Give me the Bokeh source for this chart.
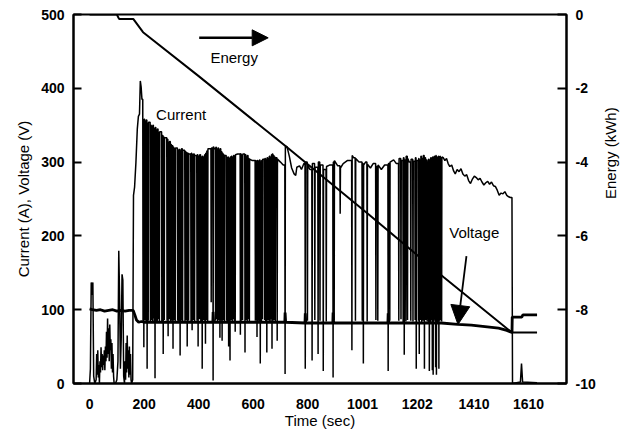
import math
from bokeh.plotting import figure
from bokeh.models import Range1d, LinearAxis, FixedTicker, Label, Arrow, NormalHead
from bokeh.embed import file_html
from bokeh.resources import INLINE

FONT = "Liberation Sans"

# ---------------- data ----------------
x_ticks = [0, 200, 400, 600, 800, 1001, 1202, 1410, 1610]
left_ticks = [0, 100, 200, 300, 400, 500]
energy_ticks = [-10, -8, -6, -4, -2, 0]

# Energy (kWh)
energy_t = [0, 100, 108, 160, 196, 400, 724, 1024, 1300, 1549, 1641]
energy_kwh = [0, 0, -0.12, -0.12, -0.48, -1.67, -3.6, -5.42, -7.13, -8.62, -8.62]

# Voltage (V)
volt_t = [0, 10, 25, 40, 55, 70, 85, 100, 115, 130,
          145, 160, 166, 172, 180, 190, 200, 239, 240, 242,
          330, 331, 333, 452, 453, 455, 625, 626, 628, 716,
          717, 719, 790, 791, 793, 892, 893, 895, 1094, 1095,
          1097, 1245, 1246, 1248, 1271, 1272, 1274, 1290, 1350, 1400,
          1450, 1500, 1530, 1549, 1550, 1585, 1589, 1641]
volt_v = [101, 100, 99, 100, 98, 99, 100, 98, 99, 98,
          99, 99, 93, 86, 83, 84, 83, 83, 96, 83,
          83, 95, 83, 83, 97, 83, 83, 95, 83, 83,
          96, 83, 82, 95, 82, 82, 96, 82, 82, 95,
          82, 82, 95, 82, 82, 96, 82, 82, 80, 79,
          77, 75, 72, 69, 90, 90, 93, 93]

# Current (A): start-up part
pre_t = [0, 3, 6, 9, 12, 15, 19, 24, 26, 28,
         30, 32, 34, 36, 38, 40, 42, 44, 46, 48,
         50, 52, 54, 56, 58, 60, 62, 64, 66, 68,
         70, 72, 74, 76, 78, 80, 82, 84, 86, 88,
         90, 95, 100, 104, 107, 110, 113, 116, 119, 122,
         125, 128, 130, 132, 134, 136, 138, 140, 142, 144,
         146, 148, 150, 152, 154, 158, 161, 165, 170, 175,
         179, 183, 186, 189, 192]
pre_a = [0, 20, 137, 120, 137, 10, 0, 5, 40, 12,
         45, 8, 25, 0, 30, 15, 49, 22, 40, 18,
         38, 25, 45, 18, 50, 30, 70, 35, 88, 40,
         75, 30, 80, 45, 60, 20, 55, 15, 40, 10,
         0, 0, 5, 30, 180, 120, 20, 60, 148, 140,
         10, 0, 30, 5, 55, 15, 65, 20, 45, 8,
         50, 12, 40, 5, 0, 5, 255, 266, 300, 345,
         362, 365, 410, 402, 385]

# Current (A): driving part - times, minimum reached, level returned to
drop_t = [196, 199, 203, 207, 211, 215, 223, 227, 231, 235,
          240, 244, 248, 252, 256, 265, 270, 274, 284,
          288, 292, 297, 301, 306, 310, 314, 323, 327, 332,
          336, 341, 350, 354, 358, 363, 372, 376, 380,
          385, 394, 398, 403, 408, 413, 417,
          421, 425, 429, 433, 440, 446, 453, 458, 462, 466,
          470, 474, 478, 482, 486, 490, 494, 502, 506,
          510, 515, 519, 523, 527, 531, 534, 543, 553, 557,
          561, 570, 574, 578, 582, 586, 597, 608, 611,
          614, 618, 622, 626, 630, 634, 642, 646, 650,
          654, 658, 662, 666, 669, 673, 677, 681, 688, 700,
          710, 717, 724, 733, 741, 750, 756, 760, 770, 777,
          786,
          791, 799, 808, 816, 826, 838, 845, 857, 868, 880,
          893, 897, 910, 919, 930, 945, 962, 968, 975, 988,
          1000, 1004, 1012, 1018, 1030, 1040, 1050, 1057, 1070, 1082,
          1095, 1101, 1115, 1125, 1134, 1142, 1150, 1154, 1160, 1166,
          1172, 1178, 1186, 1194, 1198, 1206, 1209, 1214, 1218, 1223,
          1228, 1233, 1238, 1242, 1246, 1250, 1254, 1257, 1260, 1263,
          1266, 1269, 1272, 1275, 1278, 1281, 1284, 1287, 1291]
drop_min = [84, 49, 86, 83, 20, 85, 82, 86, 84, 88,
            7, 85, 83, 87, 84, 83, 40, 86, 85,
            64, 87, 83, 85, 47, 86, 84, 85, 83, 38,
            86, 84, 83, 86, 50, 85, 83, 72, 86,
            84, 85, 50, 87, 84, 20, 86,
            85, 54, 86, 84, 318, 110, 4, 318, 85, 87,
            83, 86, 62, 85, 58, 86, 84, 85, 83,
            50, 31, 86, 84, 87, 83, 70, 311, 66, 85,
            86, 42, 86, 84, 87, 83, 302, 85, 86,
            63, 84, 86, 27, 85, 87, 86, 84, 42,
            86, 85, 83, 87, 47, 85, 86, 84, 58, 300,
            296, 13, 321, 307, 292, 284, 282, 293, 295, 290,
            298,
            20, 85, 290, 31, 86, 40, 85, 17, 84, 296,
            8, 86, 295, 230, 298, 302, 45, 306, 85, 300,
            85, 27, 300, 84, 292, 298, 86, 85, 290, 296,
            17, 85, 303, 298, 85, 87, 83, 39, 84, 86,
            300, 85, 84, 86, 20, 85, 40, 86, 83, 85,
            20, 86, 84, 87, 17, 84, 86, 18, 12, 85,
            87, 22, 12, 86, 84, 20, 85, 86, 84]
drop_level = [356, 358, 355, 357, 352, 354, 350, 348, 350, 346,
              347, 343, 345, 340, 341, 336, 334, 333, 331,
              327, 328, 324, 322, 320, 318, 319, 316, 317, 315,
              318, 316, 314, 313, 312, 311, 312, 310, 311,
              309, 310, 308, 310, 307, 308, 306,
              310, 312, 315, 318, 318, 319, 321, 318, 320, 317,
              319, 316, 318, 314, 312, 310, 309, 306, 307,
              305, 307, 308, 306, 309, 307, 310, 311, 311, 309,
              311, 310, 307, 309, 305, 304, 302, 302, 300,
              302, 301, 303, 300, 302, 304, 305, 303, 306,
              305, 308, 306, 310, 311, 309, 307, 306, 304, 300,
              296, 321, 321, 307, 292, 284, 282, 293, 295, 290,
              298,
              300, 296, 290, 298, 293, 300, 296, 290, 294, 296,
              300, 302, 295, 292, 298, 302, 309, 306, 305, 300,
              298, 296, 300, 297, 292, 298, 294, 296, 290, 296,
              298, 300, 303, 298, 305, 302, 306, 303, 308, 305,
              300, 304, 301, 306, 302, 305, 303, 308, 305, 309,
              306, 303, 300, 304, 302, 306, 304, 307, 305, 308,
              306, 309, 307, 305, 308, 306, 308, 306, 307]

# Current (A): steady part, end of run and rest
post_t = [1297, 1303, 1309, 1315, 1321, 1328, 1335, 1341, 1348, 1355,
          1362, 1369, 1376, 1383, 1390, 1397, 1404, 1411, 1418, 1425,
          1432, 1439, 1446, 1453, 1460, 1467, 1474, 1481, 1488, 1495,
          1502, 1509, 1516, 1523, 1530, 1537, 1543, 1549, 1551, 1580,
          1584, 1588, 1641]
post_a = [306, 302, 305, 298, 294, 296, 288, 284, 290, 287,
          291, 284, 281, 283, 275, 271, 277, 281, 279, 276,
          278, 273, 269, 272, 274, 270, 273, 268, 267, 262,
          255, 258, 257, 260, 255, 253, 252, 252, 0, 2,
          27, 2, 1]

assert len(volt_t) == len(volt_v)
assert len(pre_t) == len(pre_a)
assert len(drop_t) == len(drop_min) == len(drop_level)
assert len(post_t) == len(post_a)

cur_t, cur_a = list(pre_t), list(pre_a)
level = pre_a[-1]
for t, lo, hi in zip(drop_t, drop_min, drop_level):
    if lo < hi:
        cur_t += [t - 1, t, t + 1]
        cur_a += [level, lo, hi]
    else:
        cur_t.append(t)
        cur_a.append(hi)
    level = hi
cur_t += post_t
cur_a += post_a

# ---------------- figure ----------------
p = figure(width=636, height=434, output_backend="svg", toolbar_location=None,
           x_range=Range1d(-59, 1749), y_range=Range1d(0, 500),
           min_border_left=73, min_border_right=70, min_border_top=14,
           min_border_bottom=51)
p.extra_y_ranges = {"energy": Range1d(-10, 0)}
p.xgrid.visible = False
p.ygrid.visible = False
p.outline_line_color = "black"
p.outline_line_width = 2
p.outline_line_alpha = 1
p.background_fill_color = "white"
p.border_fill_color = "white"


def style_axis(ax, tick_in):
    ax.axis_line_color = "black"
    ax.axis_line_width = 2
    ax.major_tick_line_color = "black"
    ax.major_tick_line_width = 2
    ax.major_tick_in = tick_in
    ax.major_tick_out = 0
    ax.minor_tick_line_color = None
    ax.major_label_text_font = FONT
    ax.major_label_text_font_size = "14px"
    ax.major_label_text_font_style = "bold"
    ax.major_label_text_color = "black"
    ax.axis_label_text_font = FONT
    ax.axis_label_text_font_size = "15px"
    ax.axis_label_text_font_style = "normal"
    ax.axis_label_text_color = "black"


xa = p.xaxis[0]
xa.ticker = FixedTicker(ticks=x_ticks)
style_axis(xa, 0)
xa.major_tick_line_color = None
xa.major_label_standoff = 15
xa.axis_label = "Time (sec)"
xa.axis_label_standoff = 0

ya = p.yaxis[0]
ya.ticker = FixedTicker(ticks=left_ticks)
style_axis(ya, 8)
ya.major_label_standoff = 9
ya.axis_label = "Current (A), Voltage (V)"
ya.axis_label_standoff = 6

ra = LinearAxis(y_range_name="energy", ticker=FixedTicker(ticks=energy_ticks))
style_axis(ra, 9)
ra.major_label_standoff = 9
ra.major_label_overrides = {v: str(v) for v in energy_ticks}
ra.axis_label = "Energy (kWh)"
ra.axis_label_standoff = 12
try:
    ra.axis_label_orientation = math.pi / 2
except Exception:
    pass
p.add_layout(ra, "right")

# ---------------- series ----------------
p.line(cur_t, cur_a, line_color="black", line_width=1.5)
p.line(volt_t, volt_v, line_color="black", line_width=2.8)
p.line(energy_t, energy_kwh, line_color="black", line_width=2, y_range_name="energy")

# ---------------- annotations ----------------
def add_text(x, y, text):
    p.add_layout(Label(x=x, y=y, text=text, text_align="left",
                       text_baseline="middle", text_font=FONT,
                       text_font_size="15px", text_color="black"))

add_text(443, 442, "Energy")
add_text(244, 365, "Current")
add_text(1319, 205, "Voltage")

p.add_layout(Arrow(end=NormalHead(size=16, fill_color="black", line_color="black"),
                   x_start=402, y_start=468.4, x_end=655, y_end=468.4,
                   line_color="black", line_width=2.5))
p.add_layout(Arrow(end=NormalHead(size=19, fill_color="black", line_color="black"),
                   x_start=1382, y_start=172.5, x_end=1351, y_end=80,
                   line_color="black", line_width=1.8))

open("out.html", "w").write(file_html(p, INLINE))
